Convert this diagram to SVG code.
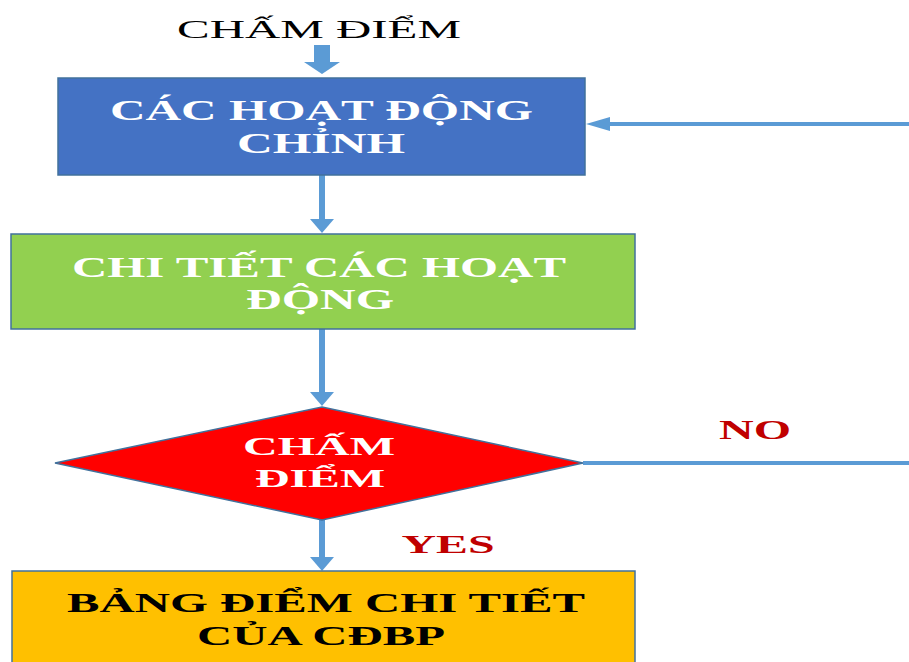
<svg xmlns="http://www.w3.org/2000/svg" width="909" height="662" viewBox="0 0 909 662">
<style>
.box{stroke:#41719C;stroke-width:1.5}
.lbl{font-family:"Liberation Serif","Times New Roman",serif;font-weight:bold;text-anchor:middle}
.w{fill:#FFFFFF}
.k{fill:#000000}
.r{fill:#C00000}
.con{fill:none;stroke:#5B9BD5}
.v{stroke-width:6}
.h{stroke-width:4}
</style>
<defs>
<marker id="ahV" markerUnits="userSpaceOnUse" markerWidth="14" markerHeight="24" viewBox="0 0 14 24" refX="0" refY="12" orient="auto">
<path d="M0,0 L14,12 L0,24 Z" fill="#5B9BD5"/>
</marker>
<marker id="ahH" markerUnits="userSpaceOnUse" markerWidth="24" markerHeight="14" viewBox="0 0 24 14" refX="0" refY="7" orient="auto">
<path d="M0,0 L24,7 L0,14 Z" fill="#5B9BD5"/>
</marker>
</defs>
<rect width="909" height="662" fill="#FFFFFF"/>

<g id="title">
<text x="319" y="38" font-family="'Liberation Serif','Times New Roman',serif" font-size="26" text-anchor="middle" fill="#000000" textLength="284" lengthAdjust="spacingAndGlyphs">CHẤM ĐIỂM</text>
</g>

<g id="connectors">
<polygon points="314,45 330,45 330,62 340,62 322,74 304,62 314,62" fill="#5B9BD5"/>
<path class="con v" d="M322,175 V219" marker-end="url(#ahV)"/>
<path class="con v" d="M322,329 V392" marker-end="url(#ahV)"/>
<path class="con v" d="M322,520 V557" marker-end="url(#ahV)"/>
<path class="con h" d="M583,463 H912 V124 H610" marker-end="url(#ahH)"/>
<text class="lbl r" x="755" y="439" font-size="27" textLength="72" lengthAdjust="spacingAndGlyphs">NO</text>
<text class="lbl r" x="448" y="553" font-size="26" textLength="93" lengthAdjust="spacingAndGlyphs">YES</text>
</g>

<g id="main-activities">
<rect class="box" x="58" y="78" width="527" height="97" fill="#4472C4" stroke="#2F5597"/>
<text class="lbl w" x="321.5" y="120" font-size="29" textLength="423" lengthAdjust="spacingAndGlyphs">CÁC HOẠT ĐỘNG</text>
<text class="lbl w" x="321" y="153" font-size="29" textLength="168" lengthAdjust="spacingAndGlyphs">CHỈNH</text>
</g>

<g id="detail-activities">
<rect class="box" x="11" y="234" width="624" height="95" fill="#92D050"/>
<text class="lbl w" x="319" y="277" font-size="30" textLength="494" lengthAdjust="spacingAndGlyphs">CHI TIẾT CÁC HOẠT</text>
<text class="lbl w" x="320" y="309" font-size="30" textLength="148" lengthAdjust="spacingAndGlyphs">ĐỘNG</text>
</g>

<g id="grading-decision">
<polygon class="box" points="322,407 583,463 322,520 55,463" fill="#FF0000"/>
<text class="lbl w" x="319" y="455" font-size="25" textLength="152" lengthAdjust="spacingAndGlyphs">CHẤM</text>
<text class="lbl w" x="320" y="487" font-size="25" textLength="130" lengthAdjust="spacingAndGlyphs">ĐIỂM</text>
</g>

<g id="score-table">
<rect class="box" x="12" y="571" width="623" height="100" fill="#FFC000"/>
<text class="lbl k" x="326" y="612" font-size="28" textLength="518" lengthAdjust="spacingAndGlyphs">BẢNG ĐIỂM CHI TIẾT</text>
<text class="lbl k" x="321" y="645" font-size="28" textLength="248" lengthAdjust="spacingAndGlyphs">CỦA CĐBP</text>
</g>
</svg>
